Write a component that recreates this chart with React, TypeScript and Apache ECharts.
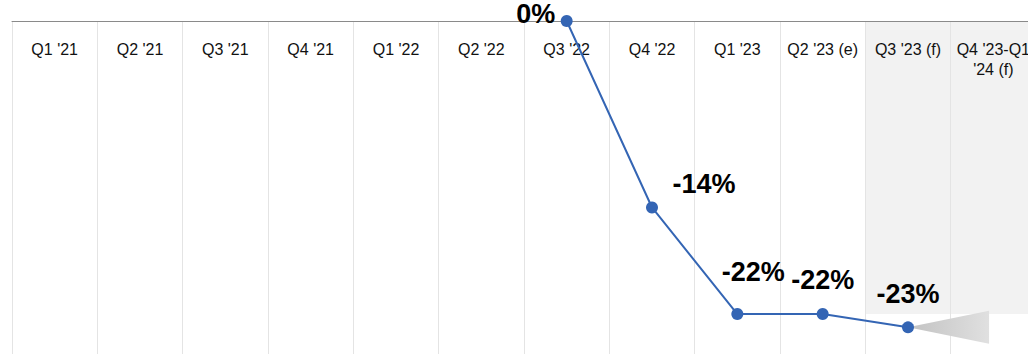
import React, { useEffect, useRef } from "react";
import * as echarts from "echarts";

const categories = [
  "Q1 '21", "Q2 '21", "Q3 '21", "Q4 '21", "Q1 '22", "Q2 '22",
  "Q3 '22", "Q4 '22", "Q1 '23", "Q2 '23 (e)", "Q3 '23 (f)", "Q4 '23-Q1\n'24 (f)",
];
const values: (number | null)[] = [null, null, null, null, null, null, 0, -14, -22, -22, -23, null];
// label offsets (px) relative to the default "top" position
const labelOffsets: ([number, number] | null)[] = [
  null, null, null, null, null, null, [-31, 16], [52, 0], [16, -19], [0, -11], [0, -10], null,
];
const forecastStart = 10; // first forecast category index
const shadeRange = [0, -22];
const arrowAt = [10, -23];

export default function App() {
  const ref = useRef<HTMLDivElement>(null);
  useEffect(() => {
    document.body.style.margin = "0";
    const chart = echarts.init(ref.current!, null, { renderer: "svg" });
    chart.setOption({
      animation: false,
      grid: { left: 12, top: 21, width: 1024, height: 333, containLabel: false, outerBoundsMode: "none" },
      xAxis: {
        type: "category",
        position: "top",
        data: categories,
        boundaryGap: true,
        axisLine: { show: true, lineStyle: { color: "#8a8a8a", width: 1 } },
        axisTick: { show: false },
        axisLabel: {
          inside: true,
          interval: 0,
          margin: 18,
          color: "#111",
          fontSize: 16,
          lineHeight: 20,
          fontFamily: "Liberation Sans, Arial, sans-serif",
          verticalAlign: "top",
        },
        splitLine: { show: true, lineStyle: { color: "#e4e4e4", width: 1 } },
      },
      yAxis: { type: "value", min: -25, max: 0, show: false, splitLine: { show: false } },
      series: [
        {
          type: "custom",
          z: -1,
          silent: true,
          data: [[forecastStart, shadeRange[0], shadeRange[1]]],
          renderItem: (params: any, api: any) => {
            const idx = api.value(0);
            const bw = api.size([1, 0])[0];
            const p0 = api.coord([idx, api.value(1)]);
            const p1 = api.coord([idx, api.value(2)]);
            const x0 = p0[0] - bw / 2;
            const x1 = params.coordSys.x + params.coordSys.width;
            return {
              type: "rect",
              shape: { x: x0, y: p0[1], width: x1 - x0, height: p1[1] - p0[1] },
              style: { fill: "#f2f2f2" },
            };
          },
        },
        {
          type: "custom",
          z: 1,
          silent: true,
          data: [arrowAt],
          renderItem: (params: any, api: any) => {
            const p = api.coord([api.value(0), api.value(1)]);
            const bw = api.size([1, 0])[0];
            const len = bw * 0.95;
            const h = 16.5;
            return {
              type: "polygon",
              shape: { points: [[p[0], p[1]], [p[0] + len, p[1] - h], [p[0] + len, p[1] + h]] },
              style: {
                fill: new echarts.graphic.LinearGradient(0, 0, 1, 0, [
                  { offset: 0, color: "#c2c2c2" },
                  { offset: 1, color: "#e0e0e0" },
                ]),
              },
            };
          },
        },
        {
          type: "line",
          z: 3,
          data: values.map((v, i) =>
            v === null
              ? null
              : {
                  value: v,
                  label: { offset: labelOffsets[i] || [0, 0] },
                }
          ),
          connectNulls: false,
          symbol: "circle",
          symbolSize: 12,
          itemStyle: { color: "#3465b4" },
          lineStyle: { color: "#3465b4", width: 2 },
          label: {
            show: true,
            position: "top",
            distance: 5,
            lineHeight: 24,
            formatter: (p: any) => `${p.value}%`,
            color: "#000",
            fontSize: 27,
            fontWeight: "bold",
            fontFamily: "Liberation Sans, Arial, sans-serif",
          },
        },
      ],
    });
    return () => chart.dispose();
  }, []);
  return <div ref={ref} style={{ width: 1028, height: 354 }} />;
}
